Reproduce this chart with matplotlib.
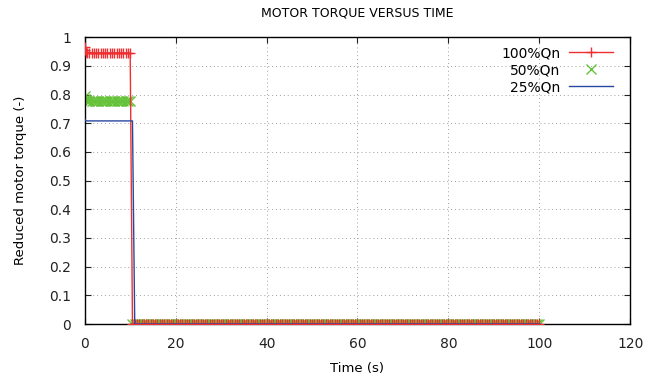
#!/usr/bin/env python3
"""Motor torque versus time, gnuplot-like look."""

import matplotlib

matplotlib.use("Agg")
import matplotlib.pyplot as plt  # noqa: E402
import numpy as np  # noqa: E402

plt.rcParams["font.family"] = ["DejaVu Sans"]

# sample times (s): a short start-up transient, then a regular grid to 100 s
TIME_START = [0.0, 0.1, 0.2]
TIME_GRID = np.linspace(0.5, 100.0, 200)
time_s = np.concatenate([TIME_START, TIME_GRID])

# torque switch-off instants (s)
OFF_100 = 10.2
OFF_50 = 10.2
OFF_25 = 10.6

# start-up values, then steady level before switch-off, 0 after
START_100 = [0.965, 0.955, 0.948]
LEVEL_100 = 0.945
START_50 = [0.795, 0.785, 0.78]
LEVEL_50 = 0.776
START_25 = [0.715, 0.710, 0.709]
LEVEL_25 = 0.708
LEVEL_OFF = 0.0


def build_series(start, level, t_off):
    values = list(start)
    for t in TIME_GRID:
        values.append(level if t < t_off else LEVEL_OFF)
    return np.array(values)


torque_100 = build_series(START_100, LEVEL_100, OFF_100)
torque_50 = build_series(START_50, LEVEL_50, OFF_50)
torque_25 = build_series(START_25, LEVEL_25, OFF_25)

X_TICKS = [0, 20, 40, 60, 80, 100, 120]
Y_TICKS = [0, 0.1, 0.2, 0.3, 0.4, 0.5, 0.6, 0.7, 0.8, 0.9, 1]

fig = plt.figure(figsize=(6.62, 3.79), dpi=100)
ax = fig.add_axes([0.128, 0.145, 0.824, 0.757])

ax.plot(time_s, torque_100, color="#f03030", linewidth=1.0, marker="+",
        markersize=7.5, markeredgewidth=1.0, label="100%Qn", zorder=3)
ax.plot(time_s, torque_50, color="#66c23a", linestyle="none", marker="x",
        markersize=6.5, markeredgewidth=1.0, label="50%Qn", zorder=2)
ax.plot(time_s, torque_25, color="#2848a0", linewidth=1.0,
        label="25%Qn", zorder=4)

ax.set_xlim(0, 120)
ax.set_ylim(0, 1)
ax.set_xticks(X_TICKS)
ax.set_yticks(Y_TICKS)
ax.set_yticklabels([f"{v:g}" for v in Y_TICKS])
ax.tick_params(direction="in", top=True, right=True, labelsize=10,
               length=4, colors="#222222")
ax.tick_params(axis="y", pad=10)
ax.tick_params(axis="x", pad=9)
ax.grid(True, linestyle=(0, (1, 3)), color="#a0a0a0", linewidth=0.7)
for spine in ax.spines.values():
    spine.set_color("black")
    spine.set_linewidth(1.0)

ax.set_xlabel("Time (s)", fontsize=9.5, labelpad=8)
ax.set_ylabel("Reduced motor torque (-)", fontsize=9.5, labelpad=16)
ax.set_title("MOTOR TORQUE VERSUS TIME", fontsize=9, pad=15)

leg = ax.legend(loc="upper right", bbox_to_anchor=(0.985, 1.0),
                markerfirst=False, frameon=False,
                fontsize=10, handlelength=3.2, handletextpad=0.6,
                labelspacing=0.22, borderaxespad=0.25)
for text in leg.get_texts():
    text.set_ha("right")
    text.set_position((0, 0))

fig.savefig("out.png", dpi=100)
